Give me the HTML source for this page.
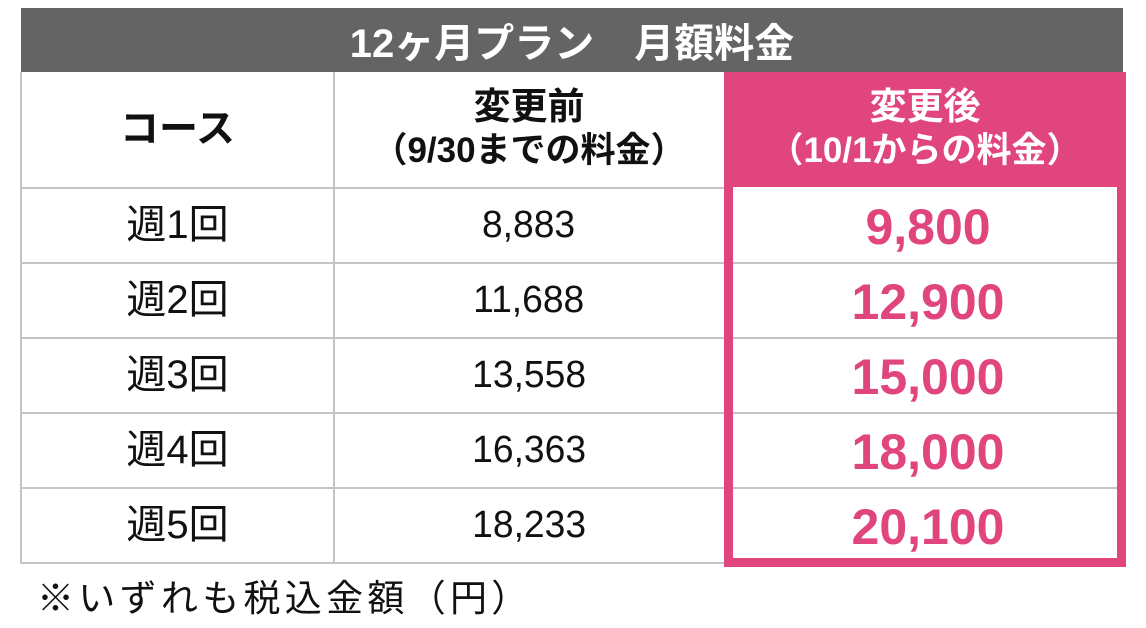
<!DOCTYPE html>
<html><head><meta charset="utf-8"><style>
body{margin:0;background:#fff;width:1146px;height:628px;position:relative;overflow:hidden;font-family:"Liberation Sans","Noto Sans CJK JP",sans-serif;}
.a{position:absolute;}
.t{position:absolute;text-align:center;white-space:nowrap;line-height:1;}
.hl{position:absolute;background:#c4c4c4;height:2px;}
.vl{position:absolute;background:#c4c4c4;width:2px;}
.n{display:inline-block;transform:scaleX(0.98);}
.p{display:inline-block;transform:scaleX(1.0);}
</style></head><body>
<div class="a" style="left:21px;top:8px;width:1102px;height:64px;background:#646464;"></div>
<div class="t" style="left:21px;width:1102px;top:24px;font-size:40px;font-weight:bold;color:#fff;">12ヶ月プラン　月額料金</div>
<div class="vl" style="left:20px;top:72px;height:492px;"></div>
<div class="vl" style="left:333px;top:72px;height:492px;"></div>
<div class="hl" style="left:21px;top:187px;width:703px;"></div>
<div class="hl" style="left:21px;top:262px;width:703px;"></div>
<div class="hl" style="left:21px;top:337px;width:703px;"></div>
<div class="hl" style="left:21px;top:412px;width:703px;"></div>
<div class="hl" style="left:21px;top:487px;width:703px;"></div>
<div class="hl" style="left:21px;top:562px;width:703px;"></div>
<div class="hl" style="left:733px;top:262px;width:384px;"></div>
<div class="hl" style="left:733px;top:337px;width:384px;"></div>
<div class="hl" style="left:733px;top:412px;width:384px;"></div>
<div class="hl" style="left:733px;top:487px;width:384px;"></div>
<div class="a" style="left:724px;top:72px;width:402px;height:115px;background:#e0457e;"></div>
<div class="a" style="left:724px;top:187px;width:384px;height:371px;border:9px solid #e0457e;border-top:none;"></div>
<div class="t" style="left:21px;width:313px;top:110px;font-size:39px;font-weight:bold;color:#111;">コース</div>
<div class="t" style="left:334px;width:390px;top:88px;font-size:37px;font-weight:bold;color:#111;">変更前</div>
<div class="t" style="left:334px;width:390px;top:133px;font-size:35px;font-weight:bold;color:#111;">（9/30までの料金）</div>
<div class="t" style="left:724px;width:402px;top:88px;font-size:37px;font-weight:bold;color:#fff;">変更後</div>
<div class="t" style="left:724px;width:402px;top:133px;font-size:35px;font-weight:bold;color:#fff;">（10/1からの料金）</div>

<div class="t" style="left:21px;width:313px;top:205px;font-size:40px;color:#111;">週1回</div>
<div class="t" style="left:21px;width:313px;top:280px;font-size:40px;color:#111;">週2回</div>
<div class="t" style="left:21px;width:313px;top:355px;font-size:40px;color:#111;">週3回</div>
<div class="t" style="left:21px;width:313px;top:430px;font-size:40px;color:#111;">週4回</div>
<div class="t" style="left:21px;width:313px;top:505px;font-size:40px;color:#111;">週5回</div>

<div class="t" style="left:334px;width:390px;top:206px;font-size:38px;color:#111;"><span class="n">8,883</span></div>
<div class="t" style="left:334px;width:390px;top:281px;font-size:38px;color:#111;"><span class="n">11,688</span></div>
<div class="t" style="left:334px;width:390px;top:356px;font-size:38px;color:#111;"><span class="n">13,558</span></div>
<div class="t" style="left:334px;width:390px;top:431px;font-size:38px;color:#111;"><span class="n">16,363</span></div>
<div class="t" style="left:334px;width:390px;top:506px;font-size:38px;color:#111;"><span class="n">18,233</span></div>

<div class="t" style="left:727px;width:402px;top:202px;font-size:50px;font-weight:bold;color:#e0457e;"><span class="p">9,800</span></div>
<div class="t" style="left:727px;width:402px;top:277px;font-size:50px;font-weight:bold;color:#e0457e;"><span class="p">12,900</span></div>
<div class="t" style="left:727px;width:402px;top:352px;font-size:50px;font-weight:bold;color:#e0457e;"><span class="p">15,000</span></div>
<div class="t" style="left:727px;width:402px;top:427px;font-size:50px;font-weight:bold;color:#e0457e;"><span class="p">18,000</span></div>
<div class="t" style="left:727px;width:402px;top:502px;font-size:50px;font-weight:bold;color:#e0457e;"><span class="p">20,100</span></div>

<div class="t" style="left:37px;top:580px;font-size:37px;color:#111;text-align:left;letter-spacing:4.3px;">※いずれも税込金額（円）</div>
</body></html>
